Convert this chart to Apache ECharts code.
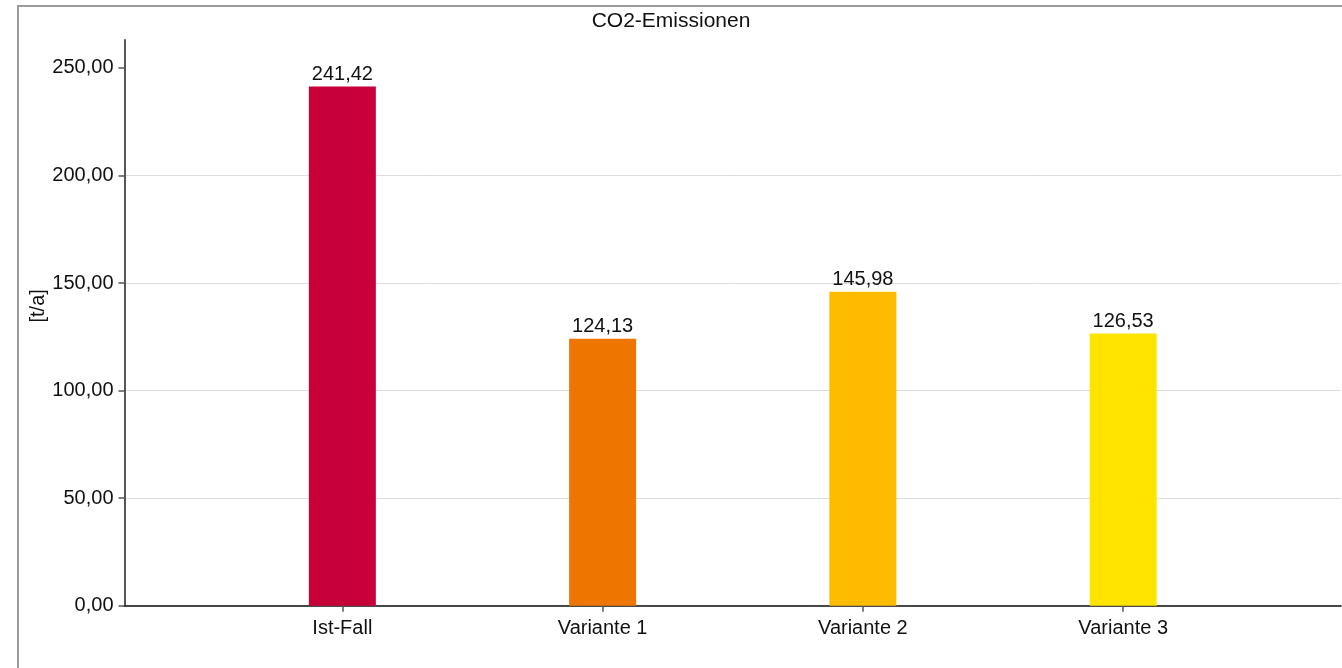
<!DOCTYPE html>
<html>
<head>
<meta charset="utf-8">
<title>CO2-Emissionen</title>
<script src="https://cdn.jsdelivr.net/npm/echarts@6/dist/echarts.min.js"></script>
<style>
  html, body { margin: 0; padding: 0; background: #fff; }
  #chart { width: 1342px; height: 668px; }
</style>
</head>
<body>
<div id="chart"></div>
<script>
// Annual CO2 emissions per scenario, in tonnes per year
const categories = ['Ist-Fall', 'Variante 1', 'Variante 2', 'Variante 3'];
const emissions = [241.42, 124.13, 145.98, 126.53];
const barColors = ['#C8003A', '#EE7600', '#FFBB00', '#FFE400'];
const yTicks = [0, 50, 100, 150, 200, 250];
const xPositions = [0, 1, 2, 3];

const deNumber = v => v.toFixed(2).replace('.', ',');
const font = '"Liberation Sans", Arial, Helvetica, sans-serif';

const chart = echarts.init(document.getElementById('chart'), null, { renderer: 'canvas' });

chart.setOption({
  animation: false,
  backgroundColor: '#fff',
  textStyle: { fontFamily: font },
  graphic: [{
    type: 'rect',
    silent: true,
    shape: { x: 18, y: 6, width: 1400, height: 720 },
    style: { fill: 'none', stroke: '#9b9b9b', lineWidth: 2 }
  }],
  title: {
    text: 'CO2-Emissionen',
    left: 'center',
    top: 11,
    padding: 0,
    textStyle: { fontFamily: font, fontSize: 21, fontWeight: 'normal', color: '#111' }
  },
  grid: { left: 124.5, right: 1, top: 40, bottom: 62.3, containLabel: false },
  xAxis: {
    type: 'value',
    min: -0.837,
    max: 3.837,
    axisLine: { show: true, onZero: false, lineStyle: { color: '#111', width: 1.5 } },
    axisTick: { show: true, customValues: xPositions, length: 6, lineStyle: { color: '#555', width: 1.5 } },
    axisLabel: {
      customValues: xPositions,
      margin: 13,
      fontSize: 20,
      color: '#111',
      fontFamily: font,
      formatter: v => categories[Math.round(v)]
    },
    splitLine: { show: false }
  },
  yAxis: {
    type: 'value',
    min: 0,
    max: 263,
    interval: 50,
    name: '[t/a]',
    nameLocation: 'middle',
    nameGap: 76,
    nameRotate: 90,
    nameMoveOverlap: false,
    nameTextStyle: { fontSize: 20, color: '#111', fontFamily: font, padding: [0, 0, 0, 34] },
    axisLine: { show: true, onZero: false, lineStyle: { color: '#555', width: 2 } },
    axisTick: { show: true, customValues: yTicks, length: 6, lineStyle: { color: '#555', width: 1.5 } },
    axisLabel: {
      customValues: yTicks,
      margin: 11,
      fontSize: 20,
      color: '#111',
      fontFamily: font,
      formatter: v => deNumber(v)
    },
    splitLine: { show: true, showMaxLine: false, lineStyle: { color: '#dcdcdc', width: 1 } }
  },
  series: [{
    type: 'bar',
    barWidth: 67,
    data: emissions.map((v, i) => ({
      value: [xPositions[i], v],
      itemStyle: { color: barColors[i] }
    })),
    label: {
      show: true,
      position: 'top',
      distance: 2,
      fontSize: 20,
      color: '#111',
      fontFamily: font,
      formatter: p => deNumber(p.value[1])
    }
  }]
});
</script>
</body>
</html>
